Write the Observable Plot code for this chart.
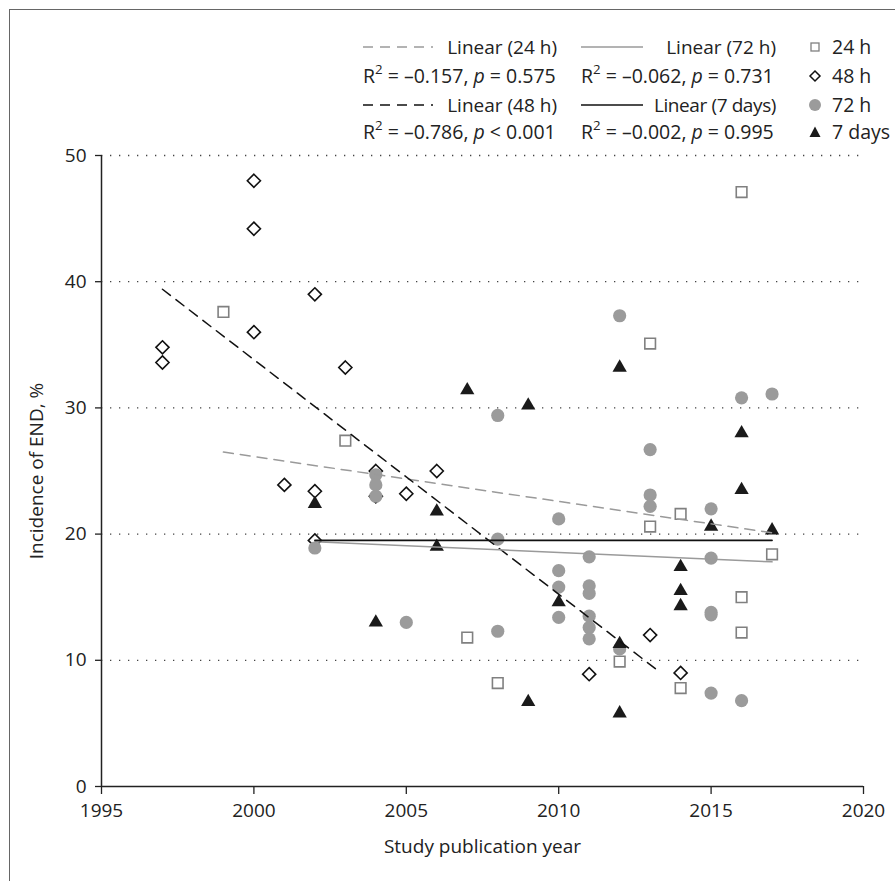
<!DOCTYPE html>
<html><head><meta charset="utf-8">
<script src="https://cdn.jsdelivr.net/npm/d3@7"></script>
<script src="https://cdn.jsdelivr.net/npm/@observablehq/plot@0.6"></script>
<style>
html,body{margin:0;padding:0;background:#fff;width:895px;height:881px;overflow:hidden;font-family:"Open Sans",sans-serif;}
#wrap{position:relative;width:895px;height:881px;}
#frame{position:absolute;left:9px;top:9px;width:1000px;height:1000px;border:1.5px solid #666;box-sizing:border-box;}
#chart{position:absolute;left:0;top:0;}
#legend{position:absolute;left:0;top:0;font-size:19.5px;color:#222;}
.row{position:absolute;white-space:nowrap;line-height:24px;height:24px;display:flex;align-items:center;}
.row svg{flex:none;}
.lab{font-size:19px;}
.tight{letter-spacing:-0.4px;}
sup{font-size:0.68em;line-height:0;position:relative;top:-0.1em;vertical-align:super;}
</style></head>
<body>
<div id="wrap"><div id="frame"></div><div id="chart"></div><div id="legend"></div></div>
<script>
// ---- data ----
const years24 = [1999, 2003, 2007, 2008, 2012, 2013, 2013, 2014, 2014, 2016, 2016, 2016, 2017];
const vals24  = [37.6, 27.4, 11.8, 8.2, 9.9, 35.1, 20.6, 21.6, 7.8, 47.1, 15.0, 12.2, 18.4];

const years48 = [1997, 1997, 2000, 2000, 2000, 2001, 2002, 2002, 2002, 2003, 2004, 2004, 2005, 2006, 2011, 2013, 2014];
const vals48  = [34.8, 33.6, 48.0, 44.2, 36.0, 23.9, 39.0, 23.4, 19.5, 33.2, 25.0, 23.0, 23.2, 25.0, 8.9, 12.0, 9.0];

const years72 = [2002, 2004, 2004, 2004, 2005, 2008, 2008, 2008, 2010, 2010, 2010, 2010, 2011, 2011, 2011, 2011, 2011, 2011,
                 2012, 2012, 2013, 2013, 2013, 2015, 2015, 2015, 2015, 2015, 2016, 2016, 2017];
const vals72  = [18.9, 24.7, 23.9, 23.0, 13.0, 29.4, 19.6, 12.3, 21.2, 17.1, 15.8, 13.4, 18.2, 15.9, 15.3, 13.5, 12.6, 11.7,
                 37.3, 10.9, 26.7, 23.1, 22.2, 22.0, 18.1, 13.8, 13.6, 7.4, 30.8, 6.8, 31.1];

const years7d = [2002, 2004, 2006, 2006, 2007, 2009, 2009, 2010, 2012, 2012, 2012, 2014, 2014, 2014, 2015, 2016, 2016, 2017];
const vals7d  = [22.4, 13.0, 21.8, 19.0, 31.4, 30.2, 6.7, 14.6, 33.2, 11.3, 5.8, 17.4, 15.5, 14.3, 20.6, 28.0, 23.5, 20.3];

// linear trend lines (end points)
const trend24Years = [1999, 2017], trend24Vals = [26.5, 20.1];
const trend48Years = [1997, 2013.3], trend48Vals = [39.4, 9.1];
const trend72Years = [2002, 2017], trend72Vals = [19.4, 17.8];
const trend7dYears = [2002, 2017], trend7dVals = [19.5, 19.5];

const xTicks = [1995, 2000, 2005, 2010, 2015, 2020];
const yTicks = [0, 10, 20, 30, 40, 50];
const gridVals = [10, 20, 30, 40, 50];

const legendLines = ["Linear (24 h)", "Linear (48 h)", "Linear (72 h)", "Linear (7 days)"];
const legendR2 = ["–0.157", "–0.786", "–0.062", "–0.002"];
const legendP = ["= 0.575", "< 0.001", "= 0.731", "= 0.995"];
const legendPoints = ["24 h", "48 h", "72 h", "7 days"];

// ---- build tables ----
const toRows = (xs, ys) => xs.map((x, i) => ({year: x, value: ys[i]}));
const d24 = toRows(years24, vals24), d48 = toRows(years48, vals48), d72 = toRows(years72, vals72), d7 = toRows(years7d, vals7d);
const t24 = toRows(trend24Years, trend24Vals), t48 = toRows(trend48Years, trend48Vals),
      t72 = toRows(trend72Years, trend72Vals), t7 = toRows(trend7dYears, trend7dVals);

const ink = "#222";
const grayDot = "#9b9b9b";
const grayLine = "#9a9a9a";
const graySq = "#808080";

const chart = Plot.plot({
  width: 895, height: 881,
  marginLeft: 101, marginRight: 32, marginTop: 155, marginBottom: 95,
  style: {fontFamily: '"Open Sans", sans-serif', fontSize: "19px", color: ink, background: "transparent", overflow: "visible"},
  x: {domain: [1995, 2020]},
  y: {domain: [0, 50]},
  marks: [
    Plot.ruleY(gridVals, {stroke: "#444", strokeDasharray: "1.3,7.7", strokeWidth: 1.3}),
    Plot.axisX({ticks: xTicks, tickSize: 8, tickPadding: 9, tickFormat: d => String(d), fontSize: 19,
      label: "Study publication year", labelAnchor: "center", labelArrow: false, labelOffset: 66, strokeWidth: 1.3}),
    Plot.axisY({ticks: yTicks, tickSize: 6, tickPadding: 9, fontSize: 19,
      label: "Incidence of END, %", labelAnchor: "center", labelArrow: false, labelOffset: 72, strokeWidth: 1.3}),
    Plot.ruleX([1995], {stroke: ink, strokeWidth: 1.5}),
    Plot.ruleY([0], {stroke: ink, strokeWidth: 1.5}),
    Plot.dot(d48, {x: "year", y: "value", symbol: "diamond2", r: 5.9, stroke: "#111", strokeWidth: 1.6, fill: "white"}),
    Plot.dot(d72, {x: "year", y: "value", symbol: "circle", r: 6.6, fill: grayDot, stroke: "none"}),
    Plot.dot(d24, {x: "year", y: "value", symbol: "square", r: 6.0, stroke: graySq, strokeWidth: 1.6, fill: "white"}),
    Plot.dot(d7, {x: "year", y: "value", symbol: "triangle", r: 5.3, fill: "#1a1a1a", stroke: "none"}),
    Plot.line(t24, {x: "year", y: "value", stroke: grayLine, strokeWidth: 1.5, strokeDasharray: "10,7"}),
    Plot.line(t48, {x: "year", y: "value", stroke: "#111", strokeWidth: 1.5, strokeDasharray: "10,7"}),
    Plot.line(t72, {x: "year", y: "value", stroke: grayLine, strokeWidth: 1.5}),
    Plot.line(t7, {x: "year", y: "value", stroke: "#111", strokeWidth: 1.6})
  ]
});
document.getElementById("chart").appendChild(chart);

// ---- legend ----
const lg = document.getElementById("legend");
const rowY = [47, 76, 105, 132];
const lineStyles = [
  {stroke: grayLine, dash: "10,7"}, {stroke: "#111", dash: "10,7"},
  {stroke: grayLine, dash: null}, {stroke: "#111", dash: null}
];
const cols = [{x: 363, w: 194, sw: 70}, {x: 581, w: 195, sw: 62}];
for (let i = 0; i < 4; i++) {
  const c = cols[Math.floor(i / 2)];
  const r = (i % 2) * 2;
  const ls = lineStyles[i];
  const a = document.createElement("div");
  a.className = "row";
  a.style.left = c.x + "px"; a.style.top = (rowY[r] - 12) + "px"; a.style.width = c.w + "px";
  a.style.justifyContent = "space-between";
  const cls = i === 3 ? "lab tight" : "lab";
  a.innerHTML = `<svg width="${c.sw}" height="10"><line x1="0" x2="${c.sw}" y1="5" y2="5" stroke="${ls.stroke}" stroke-width="1.5" ${ls.dash ? `stroke-dasharray="${ls.dash}"` : ""}/></svg><span class="${cls}">${legendLines[i]}</span>`;
  lg.appendChild(a);
  const b = document.createElement("div");
  b.className = "row";
  b.style.left = c.x + "px"; b.style.top = (rowY[r + 1] - 12) + "px";
  b.innerHTML = `<span>R<sup>2</sup> = ${legendR2[i]}, <i>p</i> ${legendP[i]}</span>`;
  lg.appendChild(b);
}
const symSvgs = [
  `<svg width="14" height="14"><rect x="3" y="3" width="8" height="8" fill="white" stroke="${graySq}" stroke-width="1.3"/></svg>`,
  `<svg width="14" height="14"><path d="M7 2 L12 7 L7 12 L2 7 Z" fill="white" stroke="#111" stroke-width="1.5"/></svg>`,
  `<svg width="14" height="14"><circle cx="7" cy="7" r="6" fill="${grayDot}"/></svg>`,
  `<svg width="14" height="14"><path d="M7 1.5 L12.5 12 L1.5 12 Z" fill="#1a1a1a"/></svg>`
];
for (let i = 0; i < 4; i++) {
  const d = document.createElement("div");
  d.className = "row";
  d.style.left = "808px"; d.style.top = (rowY[i] - 12) + "px";
  d.innerHTML = symSvgs[i] + `<span style="margin-left:10px">${legendPoints[i]}</span>`;
  lg.appendChild(d);
}
</script>
</body></html>
